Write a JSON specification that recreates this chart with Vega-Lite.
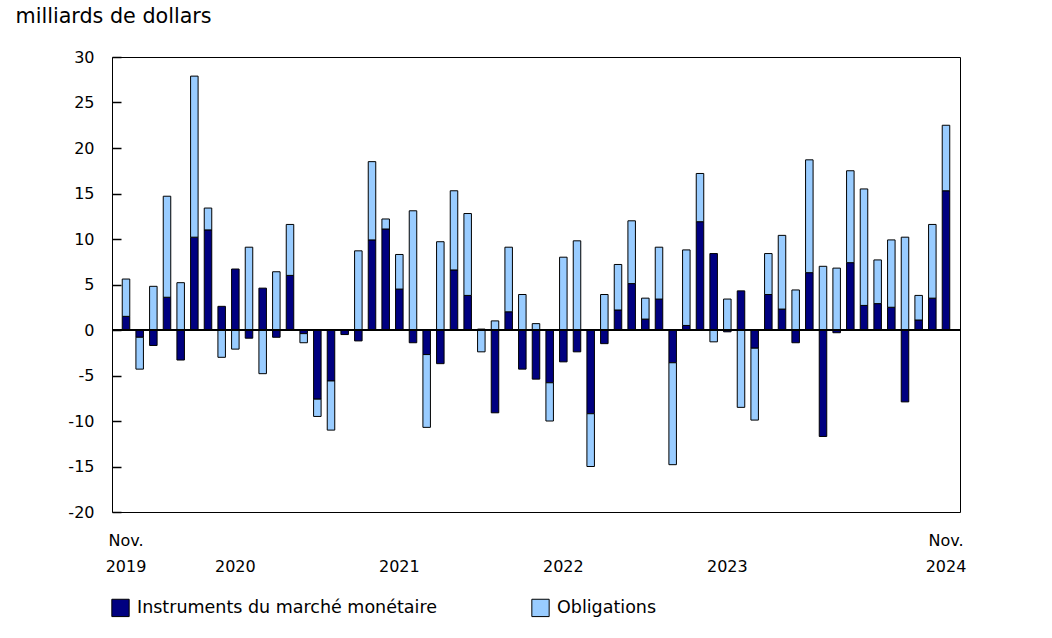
{
  "$schema": "https://vega.github.io/schema/vega-lite/v6.json",
  "width": 848,
  "height": 455,
  "autosize": {"type": "none"},
  "padding": {"left": 112, "top": 57, "right": 92, "bottom": 126},
  "background": "white",
  "config": {
    "font": "DejaVu Sans",
    "view": {"stroke": "#000000", "strokeWidth": 1}
  },
  "data": {
    "values": [
      {"mois": "2019-11", "Instruments du marché monétaire": 1.5, "Obligations": 4.1},
      {"mois": "2019-12", "Instruments du marché monétaire": -0.8, "Obligations": -3.5},
      {"mois": "2020-01", "Instruments du marché monétaire": -1.7, "Obligations": 4.8},
      {"mois": "2020-02", "Instruments du marché monétaire": 3.6, "Obligations": 11.1},
      {"mois": "2020-03", "Instruments du marché monétaire": -3.3, "Obligations": 5.2},
      {"mois": "2020-04", "Instruments du marché monétaire": 10.2, "Obligations": 17.7},
      {"mois": "2020-05", "Instruments du marché monétaire": 11.0, "Obligations": 2.4},
      {"mois": "2020-06", "Instruments du marché monétaire": 2.6, "Obligations": -3.0},
      {"mois": "2020-07", "Instruments du marché monétaire": 6.7, "Obligations": -2.1},
      {"mois": "2020-08", "Instruments du marché monétaire": -0.9, "Obligations": 9.1},
      {"mois": "2020-09", "Instruments du marché monétaire": 4.6, "Obligations": -4.8},
      {"mois": "2020-10", "Instruments du marché monétaire": -0.8, "Obligations": 6.4},
      {"mois": "2020-11", "Instruments du marché monétaire": 6.0, "Obligations": 5.6},
      {"mois": "2020-12", "Instruments du marché monétaire": -0.4, "Obligations": -1.0},
      {"mois": "2021-01", "Instruments du marché monétaire": -7.6, "Obligations": -1.9},
      {"mois": "2021-02", "Instruments du marché monétaire": -5.6, "Obligations": -5.4},
      {"mois": "2021-03", "Instruments du marché monétaire": -0.5, "Obligations": 0.0},
      {"mois": "2021-04", "Instruments du marché monétaire": -1.2, "Obligations": 8.7},
      {"mois": "2021-05", "Instruments du marché monétaire": 9.9, "Obligations": 8.6},
      {"mois": "2021-06", "Instruments du marché monétaire": 11.1, "Obligations": 1.1},
      {"mois": "2021-07", "Instruments du marché monétaire": 4.5, "Obligations": 3.8},
      {"mois": "2021-08", "Instruments du marché monétaire": -1.4, "Obligations": 13.1},
      {"mois": "2021-09", "Instruments du marché monétaire": -2.7, "Obligations": -8.0},
      {"mois": "2021-10", "Instruments du marché monétaire": -3.7, "Obligations": 9.7},
      {"mois": "2021-11", "Instruments du marché monétaire": 6.6, "Obligations": 8.7},
      {"mois": "2021-12", "Instruments du marché monétaire": 3.8, "Obligations": 9.0},
      {"mois": "2022-01", "Instruments du marché monétaire": 0.1, "Obligations": -2.4},
      {"mois": "2022-02", "Instruments du marché monétaire": -9.1, "Obligations": 1.0},
      {"mois": "2022-03", "Instruments du marché monétaire": 2.0, "Obligations": 7.1},
      {"mois": "2022-04", "Instruments du marché monétaire": -4.3, "Obligations": 3.9},
      {"mois": "2022-05", "Instruments du marché monétaire": -5.4, "Obligations": 0.7},
      {"mois": "2022-06", "Instruments du marché monétaire": -5.8, "Obligations": -4.2},
      {"mois": "2022-07", "Instruments du marché monétaire": -3.5, "Obligations": 8.0},
      {"mois": "2022-08", "Instruments du marché monétaire": -2.4, "Obligations": 9.8},
      {"mois": "2022-09", "Instruments du marché monétaire": -9.2, "Obligations": -5.8},
      {"mois": "2022-10", "Instruments du marché monétaire": -1.5, "Obligations": 3.9},
      {"mois": "2022-11", "Instruments du marché monétaire": 2.2, "Obligations": 5.0},
      {"mois": "2022-12", "Instruments du marché monétaire": 5.1, "Obligations": 6.9},
      {"mois": "2023-01", "Instruments du marché monétaire": 1.2, "Obligations": 2.3},
      {"mois": "2023-02", "Instruments du marché monétaire": 3.4, "Obligations": 5.7},
      {"mois": "2023-03", "Instruments du marché monétaire": -3.6, "Obligations": -11.2},
      {"mois": "2023-04", "Instruments du marché monétaire": 0.5, "Obligations": 8.3},
      {"mois": "2023-05", "Instruments du marché monétaire": 11.9, "Obligations": 5.3},
      {"mois": "2023-06", "Instruments du marché monétaire": 8.4, "Obligations": -1.3},
      {"mois": "2023-07", "Instruments du marché monétaire": -0.2, "Obligations": 3.4},
      {"mois": "2023-08", "Instruments du marché monétaire": 4.3, "Obligations": -8.5},
      {"mois": "2023-09", "Instruments du marché monétaire": -2.0, "Obligations": -7.9},
      {"mois": "2023-10", "Instruments du marché monétaire": 3.9, "Obligations": 4.5},
      {"mois": "2023-11", "Instruments du marché monétaire": 2.3, "Obligations": 8.1},
      {"mois": "2023-12", "Instruments du marché monétaire": -1.4, "Obligations": 4.4},
      {"mois": "2024-01", "Instruments du marché monétaire": 6.3, "Obligations": 12.4},
      {"mois": "2024-02", "Instruments du marché monétaire": -11.7, "Obligations": 7.0},
      {"mois": "2024-03", "Instruments du marché monétaire": -0.3, "Obligations": 6.8},
      {"mois": "2024-04", "Instruments du marché monétaire": 7.4, "Obligations": 10.1},
      {"mois": "2024-05", "Instruments du marché monétaire": 2.7, "Obligations": 12.8},
      {"mois": "2024-06", "Instruments du marché monétaire": 2.9, "Obligations": 4.8},
      {"mois": "2024-07", "Instruments du marché monétaire": 2.5, "Obligations": 7.4},
      {"mois": "2024-08", "Instruments du marché monétaire": -7.9, "Obligations": 10.2},
      {"mois": "2024-09", "Instruments du marché monétaire": 1.1, "Obligations": 2.7},
      {"mois": "2024-10", "Instruments du marché monétaire": 3.5, "Obligations": 8.1},
      {"mois": "2024-11", "Instruments du marché monétaire": 15.3, "Obligations": 7.2}
    ]
  },
  "layer": [
    {
      "transform": [
        {"fold": ["Instruments du marché monétaire", "Obligations"], "as": ["serie", "valeur"]}
      ],
      "mark": {"type": "bar", "stroke": "#000000", "strokeWidth": 1},
      "encoding": {
        "x": {
          "field": "mois",
          "type": "ordinal",
          "sort": null,
          "scale": {"paddingInner": 0.45, "paddingOuter": 0.75},
          "axis": {
            "title": null,
            "domain": false,
            "ticks": false,
            "labelAngle": 0,
            "labelFontSize": 16,
            "labelColor": "#000000",
            "labelBaseline": "top",
            "labelPadding": 20,
            "labelLineHeight": 26,
            "labelOverlap": false,
            "values": ["2019-11", "2020-07", "2021-07", "2022-07", "2023-07", "2024-11"],
            "labelExpr": "datum.value == '2019-11' ? ['Nov.', '2019'] : datum.value == '2024-11' ? ['Nov.', '2024'] : ['', slice(datum.value, 0, 4)]"
          }
        },
        "y": {
          "field": "valeur",
          "type": "quantitative",
          "stack": "zero",
          "scale": {"domain": [-20, 30], "nice": false},
          "axis": {
            "title": "milliards de dollars",
            "titleAngle": 0,
            "titleAlign": "left",
            "titleBaseline": "alphabetic",
            "titleX": -97,
            "titleY": -35,
            "titleFontSize": 20.7,
            "titleFontWeight": "normal",
            "titleColor": "#000000",
            "domain": false,
            "grid": false,
            "values": [-20, -15, -10, -5, 0, 5, 10, 15, 20, 25, 30],
            "tickSize": -9,
            "tickColor": "#000000",
            "tickWidth": 1.5,
            "labelFontSize": 16,
            "labelColor": "#000000",
            "labelPadding": 27,
            "labelExpr": "replace(datum.label, '\u2212', '-')"
          }
        },
        "color": {
          "field": "serie",
          "type": "nominal",
          "scale": {
            "domain": ["Instruments du marché monétaire", "Obligations"],
            "range": ["#000080", "#99ccff"]
          },
          "legend": {
            "title": null,
            "orient": "none",
            "direction": "horizontal",
            "legendX": -1,
            "legendY": 541,
            "symbolType": "square",
            "symbolSize": 300,
            "symbolStrokeColor": "#000000",
            "symbolStrokeWidth": 1,
            "labelFontSize": 17.5,
            "labelColor": "#000000",
            "labelOffset": 7,
            "columnPadding": 92,
            "labelLimit": 0
          }
        },
        "order": {"field": "serie", "type": "nominal", "sort": "ascending"}
      }
    },
    {
      "mark": {"type": "rule", "color": "#000000", "strokeWidth": 1.5},
      "encoding": {"y": {"datum": 0}}
    }
  ]
}
